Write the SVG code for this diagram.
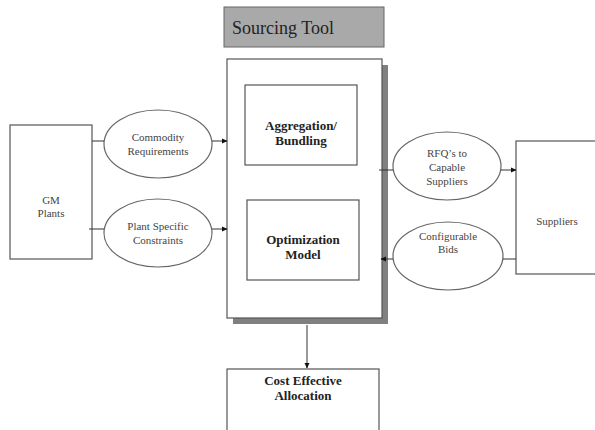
<svg xmlns="http://www.w3.org/2000/svg" width="595" height="430" viewBox="0 0 595 430">
<defs>
<marker id="ah" markerWidth="6" markerHeight="6" refX="5" refY="3" orient="auto" markerUnits="userSpaceOnUse">
<path d="M0,0.5 L5.5,3 L0,5.5 Z" fill="#111"/>
</marker>
<style>
.box{fill:#fff;stroke:#555;stroke-width:1.2}
.ell{fill:#fff;stroke:#666;stroke-width:1.2}
.lbl{font-family:"Liberation Serif",serif;font-size:11px;fill:#444;text-anchor:middle}
.bold{font-family:"Liberation Serif",serif;font-size:13px;font-weight:bold;fill:#222;text-anchor:middle}
.conn{stroke:#333;stroke-width:1;fill:none}
.arr{stroke:#333;stroke-width:1;fill:none;marker-end:url(#ah)}
</style>
</defs>
<rect width="595" height="430" fill="#fff"/>
<g id="title">
<rect x="224" y="7" width="160" height="40" fill="#a9a9a9" stroke="#666" stroke-width="1"/>
<text x="232" y="34" font-family="Liberation Serif,serif" font-size="18" fill="#222">Sourcing Tool</text>
</g>
<g id="sourcing-tool">
<rect x="233" y="65" width="155" height="259" fill="#808080"/>
<rect class="box" x="227" y="59" width="155" height="259"/>
</g>
<g id="aggregation">
<rect class="box" x="245" y="85" width="112" height="80"/>
<text class="bold" x="301" y="130">Aggregation/</text>
<text class="bold" x="301" y="145">Bundling</text>
</g>
<g id="optimization">
<rect class="box" x="247" y="200" width="112" height="80"/>
<text class="bold" x="303" y="244">Optimization</text>
<text class="bold" x="303" y="259">Model</text>
</g>
<g id="gm-plants">
<rect class="box" x="10" y="125" width="82" height="134"/>
<text class="lbl" x="51" y="204">GM</text>
<text class="lbl" x="51" y="217">Plants</text>
</g>
<g id="commodity">
<ellipse class="ell" cx="158" cy="144" rx="54" ry="34"/>
<text class="lbl" x="158" y="141">Commodity</text>
<text class="lbl" x="158" y="155">Requirements</text>
</g>
<g id="plant-constraints">
<ellipse class="ell" cx="158" cy="233" rx="54" ry="34"/>
<text class="lbl" x="158" y="230">Plant Specific</text>
<text class="lbl" x="158" y="244">Constraints</text>
</g>
<g id="rfq">
<ellipse class="ell" cx="447" cy="166" rx="54" ry="34"/>
<text class="lbl" x="447" y="157">RFQ’s to</text>
<text class="lbl" x="447" y="171">Capable</text>
<text class="lbl" x="447" y="185">Suppliers</text>
</g>
<g id="bids">
<ellipse class="ell" cx="448" cy="256" rx="55" ry="34"/>
<text class="lbl" x="448" y="240">Configurable</text>
<text class="lbl" x="448" y="253">Bids</text>
</g>
<g id="suppliers">
<rect class="box" x="516" y="141" width="90" height="133"/>
<text class="lbl" x="557" y="225">Suppliers</text>
</g>
<g id="allocation">
<rect class="box" x="227" y="369" width="152" height="80"/>
<text class="bold" x="303" y="385">Cost Effective</text>
<text class="bold" x="303" y="400">Allocation</text>
</g>
<g id="connectors">
<line class="conn" x1="92" y1="141" x2="104" y2="141"/>
<line class="arr" x1="212" y1="141" x2="227" y2="141"/>
<line class="conn" x1="89" y1="229" x2="104" y2="229"/>
<line class="arr" x1="212" y1="229" x2="227" y2="229"/>
<line class="conn" x1="379" y1="170" x2="393" y2="170"/>
<line class="arr" x1="501" y1="170" x2="516" y2="170"/>
<line class="conn" x1="516" y1="259" x2="503" y2="259"/>
<line class="arr" x1="393" y1="259" x2="381" y2="259"/>
<line class="arr" x1="307" y1="325" x2="307" y2="368"/>
</g>
</svg>
